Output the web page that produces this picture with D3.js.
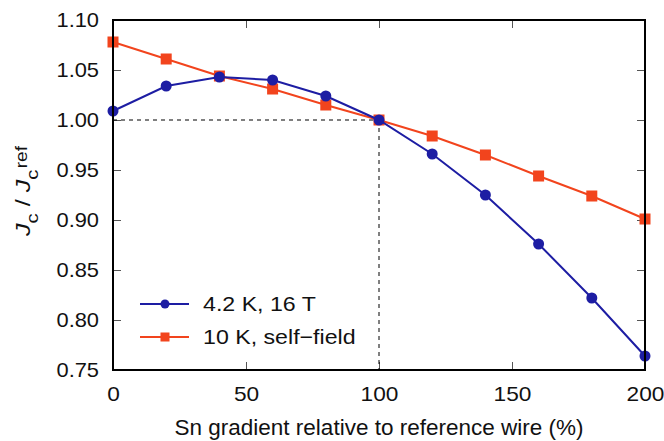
<!DOCTYPE html>
<html>
<head>
<meta charset="utf-8">
<script src="https://cdn.jsdelivr.net/npm/d3@7"></script>
<style>
  body { margin: 0; background: #fff; }
  svg { font-family: "Liberation Sans", Arial, sans-serif; }
</style>
</head>
<body>
<svg id="chart" width="664" height="441"></svg>
<script>
// data
var gradient = [0, 20, 40, 60, 80, 100, 120, 140, 160, 180, 200];
var jc42K16T = [1.009, 1.034, 1.043, 1.040, 1.024, 1.000, 0.966, 0.925, 0.876, 0.822, 0.764];
var jc10Kself = [1.078, 1.061, 1.044, 1.031, 1.015, 1.000, 0.984, 0.965, 0.944, 0.924, 0.901];
var xTicks = [0, 50, 100, 150, 200];
var yTicks = [0.75, 0.80, 0.85, 0.90, 0.95, 1.00, 1.05, 1.10];
var seriesNames = ["4.2 K, 16 T", "10 K, self\u2212field"];

var blue = "#1d1da3", red = "#f2441d";

var margin = {t: 20, r: 19, b: 71, l: 113};
var W = 664, H = 441;
var w = W - margin.l - margin.r, h = H - margin.t - margin.b;

var svg = d3.select("#chart");
var g = svg.append("g").attr("transform", "translate(" + margin.l + "," + margin.t + ")");

var x = d3.scaleLinear().domain([0, 200]).range([0, w]);
var y = d3.scaleLinear().domain([0.75, 1.10]).range([h, 0]);

// the reference font is a bit wider than Liberation Sans
function stretch(sel, f){
	sel.each(function(){
		var n = this.getComputedTextLength();
		d3.select(this).attr("textLength", n * f).attr("lengthAdjust", "spacingAndGlyphs");
	});
}

// axes (ticks inward, mirrored)
function styleAxis(sel){
	sel.select(".domain").remove();
	sel.selectAll(".tick line").attr("stroke", "#555").attr("stroke-width", 1);
	sel.selectAll(".tick text").attr("font-size", 21).attr("fill", "#111");
}
g.append("g").attr("transform", "translate(0," + h + ")")
	.call(d3.axisBottom(x).tickValues(xTicks).tickSizeInner(-8).tickPadding(16).tickFormat(d3.format("d")))
	.call(styleAxis)
	.selectAll(".tick text").call(stretch, 1.08);
g.append("g")
	.call(d3.axisTop(x).tickValues(xTicks).tickSizeInner(-8).tickFormat(""))
	.call(styleAxis);
g.append("g")
	.call(d3.axisLeft(y).tickValues(yTicks).tickSizeInner(-8).tickPadding(14).tickFormat(d3.format(".2f")))
	.call(styleAxis)
	.selectAll(".tick text").call(stretch, 1.04);
g.append("g").attr("transform", "translate(" + w + ",0)")
	.call(d3.axisRight(y).tickValues(yTicks).tickSizeInner(-8).tickFormat(""))
	.call(styleAxis);

// reference dashed lines at 100 % / 1.00
g.append("line")
	.attr("x1", x(0)).attr("x2", x(100)).attr("y1", y(1)).attr("y2", y(1))
	.attr("stroke", "#000").attr("stroke-width", 1).attr("stroke-dasharray", "4,4");
g.append("line")
	.attr("x1", x(100)).attr("x2", x(100)).attr("y1", y(1)).attr("y2", y(0.75))
	.attr("stroke", "#000").attr("stroke-width", 1).attr("stroke-dasharray", "4,4");

var line = d3.line().x(function(d){ return x(d[0]); }).y(function(d){ return y(d[1]); });
var blueData = gradient.map(function(v, i){ return [v, jc42K16T[i]]; });
var redData = gradient.map(function(v, i){ return [v, jc10Kself[i]]; });

g.append("path").datum(redData).attr("d", line)
	.attr("fill", "none").attr("stroke", red).attr("stroke-width", 2);
g.selectAll(".sq").data(redData).enter().append("rect")
	.attr("x", function(d){ return x(d[0]) - 5.5; })
	.attr("y", function(d){ return y(d[1]) - 5.5; })
	.attr("width", 11).attr("height", 11).attr("fill", red);

g.append("path").datum(blueData).attr("d", line)
	.attr("fill", "none").attr("stroke", blue).attr("stroke-width", 2);
g.selectAll(".dot").data(blueData).enter().append("circle")
	.attr("cx", function(d){ return x(d[0]); })
	.attr("cy", function(d){ return y(d[1]); })
	.attr("r", 5.5).attr("fill", blue);

// frame
g.append("rect").attr("width", w).attr("height", h)
	.attr("fill", "none").attr("stroke", "#000").attr("stroke-width", 2);

// legend
var leg = g.append("g").attr("transform", "translate(27,284)");
[[blue, "circle"], [red, "square"]].forEach(function(s, i){
	var row = leg.append("g").attr("transform", "translate(0," + (i * 33) + ")");
	row.append("line").attr("x1", 0).attr("x2", 49).attr("stroke", s[0]).attr("stroke-width", 2);
	if (s[1] == "circle") row.append("circle").attr("cx", 25).attr("r", 4.5).attr("fill", s[0]);
	else row.append("rect").attr("x", 20.5).attr("y", -4.5).attr("width", 9).attr("height", 9).attr("fill", s[0]);
	row.append("text").attr("x", 63).attr("y", 7).attr("font-size", 20.5).attr("fill", "#111")
		.text(seriesNames[i]).call(stretch, 1.13);
});

// axis titles
svg.append("text").attr("x", margin.l + w / 2).attr("y", 435)
	.attr("text-anchor", "middle").attr("font-size", 22.5).attr("fill", "#111")
	.text("Sn gradient relative to reference wire (%)");

var yl = svg.append("text").attr("transform", "translate(30,191) rotate(-90)")
	.attr("text-anchor", "middle").attr("font-size", 21).attr("fill", "#111");
yl.append("tspan").attr("font-style", "italic").text("J");
yl.append("tspan").attr("font-size", 17).attr("dy", 8).text("c");
yl.append("tspan").attr("dy", -8).text(" / ");
yl.append("tspan").attr("font-style", "italic").text("J");
yl.append("tspan").attr("font-size", 17).attr("dy", 8).text("c");
yl.append("tspan").attr("font-size", 16).attr("dx", 1).attr("dy", -11).text("ref");
yl.attr("textLength", 90).attr("lengthAdjust", "spacingAndGlyphs");
</script>
</body>
</html>
